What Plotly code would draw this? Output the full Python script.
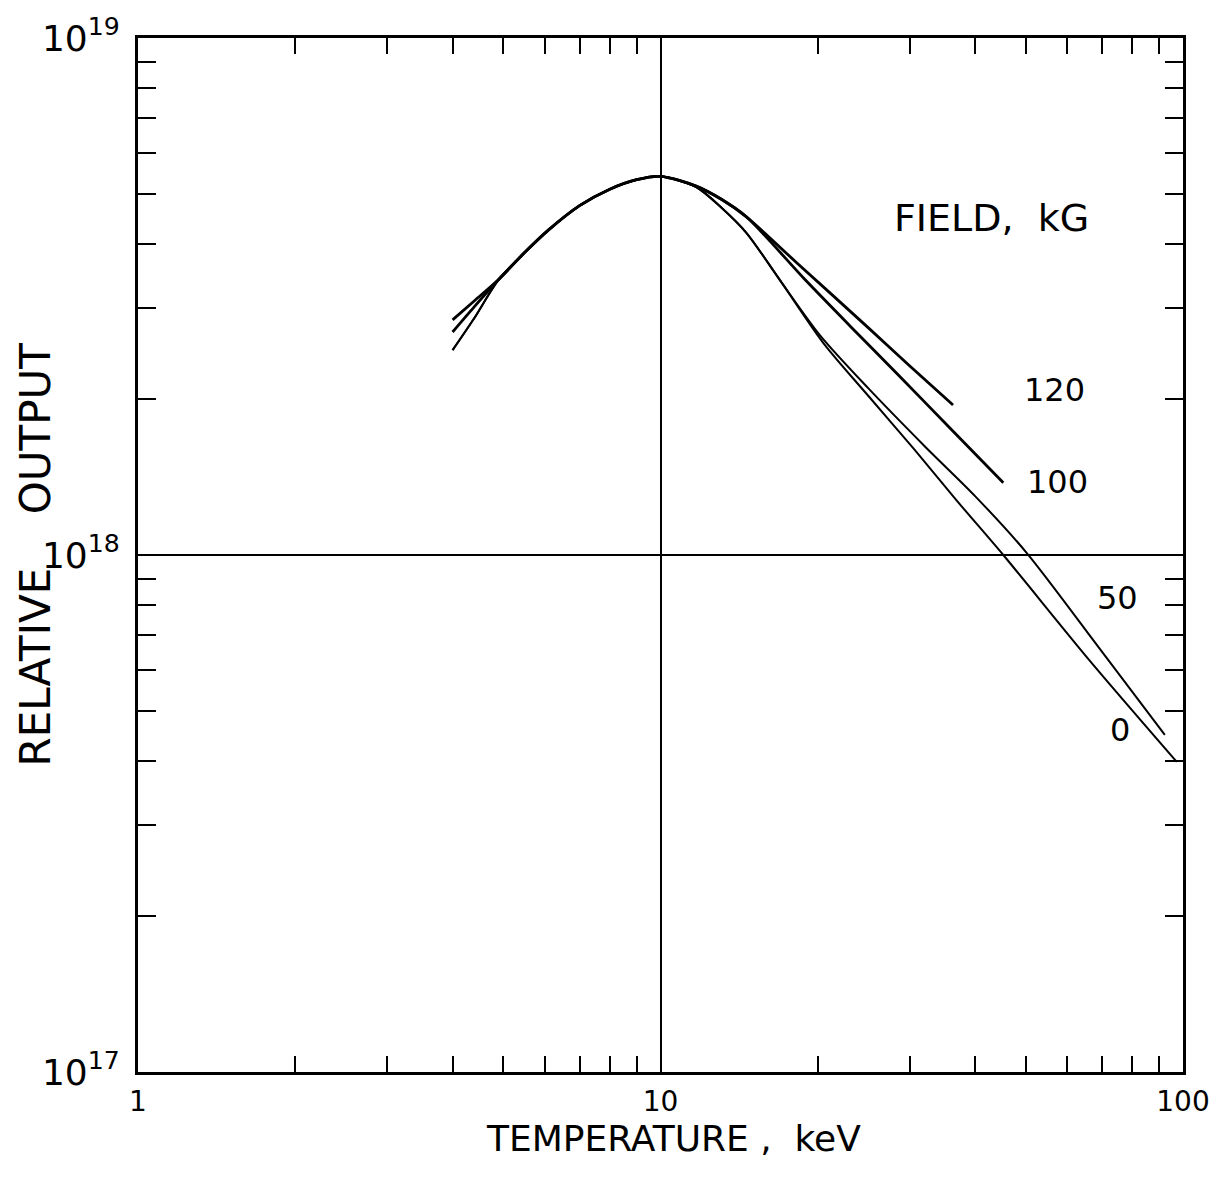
import plotly.graph_objects as go

# ---- data (temperature in keV, relative output) ----
T_120 = [4.0, 4.4, 4.9, 5.5, 6.1, 7.0, 8.0, 9.0, 10.0, 11.7, 13.1, 14.6, 18.2, 25.0, 30.0, 36.3]
Y_120 = [2.85e18, 3.10e18, 3.41e18, 3.85e18, 4.25e18, 4.74e18, 5.10e18, 5.32e18, 5.40e18,
         5.17e18, 4.87e18, 4.51e18, 3.68e18, 2.75e18, 2.32e18, 1.95e18]

T_100 = [4.0, 4.4, 4.9, 5.5, 6.1, 7.0, 8.0, 9.0, 10.0, 11.7, 13.1, 14.6, 18.9, 23.0, 28.4, 35.8, 45.3]
Y_100 = [2.70e18, 3.02e18, 3.41e18, 3.85e18, 4.25e18, 4.74e18, 5.10e18, 5.32e18, 5.40e18,
         5.17e18, 4.87e18, 4.51e18, 3.41e18, 2.78e18, 2.24e18, 1.76e18, 1.38e18]

T_50 = [4.0, 4.4, 4.9, 5.5, 6.1, 7.0, 8.0, 9.0, 10.0, 11.7, 13.1, 14.6, 16.9, 20.2, 25.0, 32.1, 40.0, 50.2, 69.2, 92.3]
Y_50 = [2.49e18, 2.87e18, 3.41e18, 3.85e18, 4.25e18, 4.74e18, 5.10e18, 5.32e18, 5.40e18,
        5.15e18, 4.69e18, 4.20e18, 3.41e18, 2.66e18, 2.10e18, 1.62e18, 1.30e18, 1.01e18, 6.60e17, 4.49e17]

T_0 = [4.0, 4.4, 4.9, 5.5, 6.1, 7.0, 8.0, 9.0, 10.0, 11.7, 13.1, 14.6, 16.9, 20.5, 25.0, 30.6, 37.0, 45.3, 66.1, 97.3]
Y_0 = [2.49e18, 2.87e18, 3.41e18, 3.85e18, 4.25e18, 4.74e18, 5.10e18, 5.32e18, 5.40e18,
       5.15e18, 4.69e18, 4.20e18, 3.41e18, 2.57e18, 2.03e18, 1.60e18, 1.27e18, 1.00e18, 6.27e17, 3.98e17]

X_TICKS = [1, 10, 100]
X_TICK_TEXT = ["1", "10", "100"]
Y_TICKS = [1e17, 1e18, 1e19]
Y_TICK_TEXT = ["10<sup>17</sup>", "10<sup>18</sup>", "10<sup>19</sup>"]
X_MINOR = [2, 3, 4, 5, 6, 7, 8, 9, 20, 30, 40, 50, 60, 70, 80, 90]
Y_MINOR = [2e17, 3e17, 4e17, 5e17, 6e17, 7e17, 8e17, 9e17,
           2e18, 3e18, 4e18, 5e18, 6e18, 7e18, 8e18, 9e18]

FONT = "DejaVu Sans"

fig = go.Figure()
for T, Y, w in [(T_120, Y_120, 2.8), (T_100, Y_100, 2.8), (T_50, Y_50, 2.0), (T_0, Y_0, 2.0)]:
    fig.add_trace(go.Scatter(x=T, y=Y, mode="lines",
                             line=dict(color="black", width=w, shape="spline", smoothing=0.8),
                             showlegend=False, hoverinfo="skip"))

axis_common = dict(
    type="log",
    showline=True, linecolor="black", linewidth=3, mirror="ticks",
    ticks="", showgrid=True, gridcolor="black", gridwidth=1.6,
    zeroline=False,
)

fig.update_xaxes(**axis_common, range=[0, 2], tickvals=X_TICKS, ticktext=X_TICK_TEXT,
                 tickfont=dict(family=FONT, size=28, color="black"), ticklabelstandoff=2,
                 minor=dict(tickvals=X_MINOR, ticks="inside", ticklen=16, tickwidth=2,
                            tickcolor="black", showgrid=False))
fig.update_yaxes(**axis_common, range=[17, 19], tickvals=Y_TICKS, ticktext=Y_TICK_TEXT,
                 tickfont=dict(family=FONT, size=36, color="black"), ticklabelstandoff=8,
                 minor=dict(tickvals=Y_MINOR, ticks="inside", ticklen=18, tickwidth=2,
                            tickcolor="black", showgrid=False))

def label(text, x, y, size, angle=0):
    fig.add_annotation(text=text, x=x, y=y, xref="paper", yref="paper",
                       showarrow=False, textangle=angle,
                       font=dict(family=FONT, size=size, color="black"),
                       xanchor="center", yanchor="middle")

label("FIELD,  kG", 0.817, 0.826, 38)
label("120", 0.877, 0.660, 32)
label("100", 0.880, 0.571, 32)
label("50", 0.937, 0.458, 32)
label("0", 0.940, 0.331, 32)
label("TEMPERATURE ,  keV", 0.512, -0.064, 36)
label("RELATIVE    OUTPUT", -0.099, 0.5, 42, angle=-90)

fig.update_layout(
    width=1218, height=1184,
    margin=dict(l=138, r=35, t=38, b=112, autoexpand=False),
    paper_bgcolor="white", plot_bgcolor="white",
    font=dict(family=FONT, color="black", size=28),
)

fig.write_html("out.html")
